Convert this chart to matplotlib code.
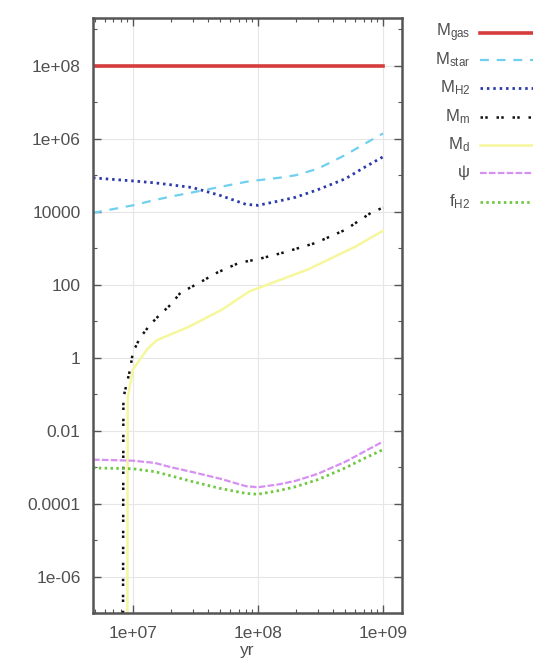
import numpy as np
import matplotlib
matplotlib.use("Agg")
import matplotlib.pyplot as plt
from matplotlib.lines import Line2D
from matplotlib.ticker import FixedLocator, LogLocator, NullFormatter

plt.rcParams['font.family'] = ['Liberation Sans', 'DejaVu Sans']
plt.rcParams['mathtext.fontset'] = 'custom'
plt.rcParams['mathtext.rm'] = 'Liberation Sans'
plt.rcParams['mathtext.it'] = 'Liberation Sans'

# ---- data ----
t = [4.8e6, 1e7, 1.5e7, 2e7, 3e7, 5e7, 8e7, 1e8, 1.5e8, 2e8, 3e8, 5e8, 7e8, 1e9]
M_gas = [1e8] * len(t)
M_star = [9.3e3, 1.5e4, 2.1e4, 2.6e4, 3.4e4, 4.8e4, 6.6e4, 7.3e4, 8.6e4, 1.0e5, 1.5e5, 3.6e5, 7.0e5, 1.4e6]
M_H2 = [8.5e4, 7.0e4, 6.2e4, 5.5e4, 4.6e4, 2.8e4, 1.6e4, 1.5e4, 2.0e4, 2.5e4, 4.0e4, 8.0e4, 1.6e5, 3.2e5]
psi = [1.6e-3, 1.5e-3, 1.3e-3, 1.0e-3, 7.3e-4, 4.8e-4, 3.0e-4, 2.8e-4, 3.4e-4, 4.2e-4, 6.5e-4, 1.4e-3, 2.6e-3, 5.0e-3]
f_H2 = [9.5e-4, 9.0e-4, 7.5e-4, 5.8e-4, 4.0e-4, 2.6e-4, 1.9e-4, 1.8e-4, 2.3e-4, 2.9e-4, 4.5e-4, 9.5e-4, 1.7e-3, 3.0e-3]

t_m = [8.3e6, 8.4e6, 9.5e6, 1e7, 1.14e7, 1.37e7, 1.64e7, 2e7, 2.4e7, 3.4e7, 4.7e7, 7.1e7, 1e8, 1.6e8, 2.9e8, 5e8, 8e8, 1e9]
M_m = [1e-12, 0.08, 0.47, 1.4, 3.5, 7.9, 15, 28, 60, 113, 213, 400, 500, 760, 1400, 3200, 9300, 1.3e4]

t_d = [9.0e6, 9.1e6, 1e7, 1.3e7, 1.55e7, 2.8e7, 5.2e7, 8.5e7, 1e8, 2.5e8, 6e8, 1e9]
M_d = [1e-12, 0.08, 0.47, 1.7, 3.0, 7.0, 21, 65, 80, 260, 1100, 3000]

labels = [r'$\mathregular{M_{gas}}$', r'$\mathregular{M_{star}}$', r'$\mathregular{M_{H2}}$',
          r'$\mathregular{M_{m}}$', r'$\mathregular{M_{d}}$', r'$\mathregular{\psi}$',
          r'$\mathregular{f_{H2}}$']
yticks = [1e-6, 1e-4, 1e-2, 1, 1e2, 1e4, 1e6, 1e8]
ytick_labels = ['1e-06', '0.0001', '0.01', '1', '100', '10000', '1e+06', '1e+08']
xticks = [1e7, 1e8, 1e9]
xtick_labels = ['1e+07', '1e+08', '1e+09']

styles = [
    dict(color='#d63c3c', lw=2.6, ls='-'),
    dict(color='#6fd0f0', lw=1.6, ls=(0, (4, 3.5))),
    dict(color='#2a3aa8', lw=2.0, ls=(0, (0.9, 1.4))),
    dict(color='#111111', lw=1.8, ls=(0, (1.0, 0.9, 1.0, 3.5))),
    dict(color='#f6f79c', lw=1.8, ls='-'),
    dict(color='#d690f2', lw=1.6, ls=(0, (3, 1))),
    dict(color='#70c840', lw=2.0, ls=(0, (0.9, 1.2))),
]
series = [(t, M_gas), (t, M_star), (t, M_H2), (t_m, M_m), (t_d, M_d), (t, psi), (t, f_H2)]

fig = plt.figure(figsize=(5.33, 6.65), dpi=100)
ax = fig.add_axes([93/533, 1-613/665, (402-93)/533, (613-18)/665])

for (xs, ys), st in zip(series, styles):
    ax.plot(xs, ys, **st)

ax.set_xscale('log')
ax.set_yscale('log')
ax.set_xlim(4.8e6, 1.42e9)
ax.set_ylim(1e-7, 2.05e9)

ax.yaxis.set_major_locator(FixedLocator(yticks))
ax.set_yticklabels(ytick_labels)
ax.yaxis.set_minor_locator(FixedLocator([10.0**k for k in range(-7, 10)]))
ax.yaxis.set_minor_formatter(NullFormatter())
ax.xaxis.set_major_locator(FixedLocator(xticks))
ax.set_xticklabels(xtick_labels)
ax.xaxis.set_minor_locator(LogLocator(base=10, subs=np.arange(2, 10)))
ax.xaxis.set_minor_formatter(NullFormatter())

ax.tick_params(which='both', direction='in', top=True, right=True, colors='#555555',
               labelcolor='#505050', labelsize=12.5)
ax.tick_params(which='major', length=6, width=1)
ax.tick_params(which='minor', length=3, width=0.8)
ax.tick_params(axis='y', pad=9)
ax.tick_params(axis='x', pad=9)
ax.grid(True, which='major', color='#e6e6e6', lw=0.8)
ax.set_axisbelow(True)
for sp in ax.spines.values():
    sp.set_color('#555555')
    sp.set_linewidth(1.8)

ax.set_xlabel('yr', fontsize=12.5, color='#505050', labelpad=2)

# legend drawn outside at right (gnuplot style)
rows = [33, 60, 88, 117, 145, 173, 202]
for lab, st, yy in zip(labels, styles, rows):
    yf = 1 - yy/665
    fig.text(470/533, yf, lab, ha='right', va='center', fontsize=12, color='#505050')
    fig.add_artist(Line2D([480/533, 1.01], [yf, yf], transform=fig.transFigure, **st))

fig.savefig('out.png', dpi=100)
